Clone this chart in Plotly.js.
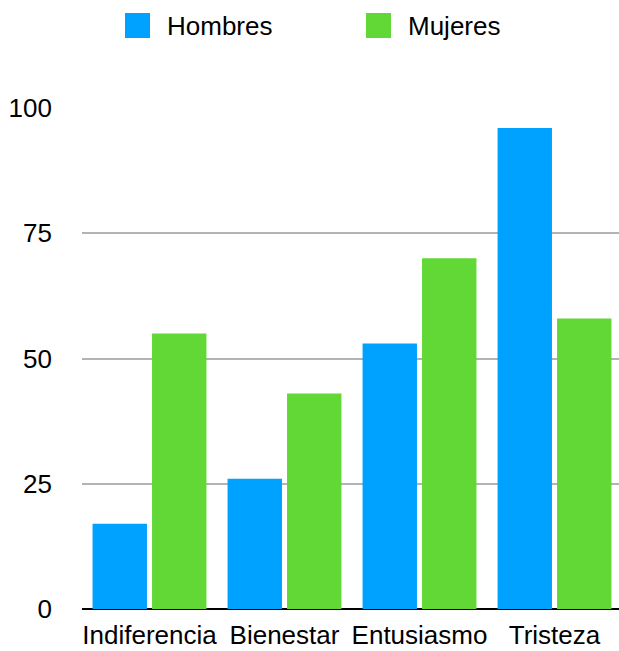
<!DOCTYPE html>
<html>
<head>
<meta charset="utf-8">
<script src="https://cdn.plot.ly/plotly-3.0.1.min.js"></script>
<style>
html,body{margin:0;padding:0;background:#fff;overflow:hidden;}
#chart{width:622px;height:651px;}
</style>
</head>
<body>
<div id="chart"></div>
<script>
const categories = ["Indiferencia", "Bienestar", "Entusiasmo", "Tristeza"];
const seriesNames = ["Hombres", "Mujeres"];
const hombres = [17, 26, 53, 96];
const mujeres = [55, 43, 70, 58];
const seriesColors = ["#00A2FF", "#61D836"];
const yTickVals = [0, 25, 50, 75, 100];
const yTickText = ["0", "25", "50", "75", "100"];

const FONT = "Liberation Sans, Arial, Helvetica, sans-serif";
const seriesValues = [hombres, mujeres];

const traces = seriesNames.map((name, i) => ({
  type: "bar",
  name: name,
  x: categories,
  y: seriesValues[i],
  marker: {color: seriesColors[i], line: {width: 0}},
  showlegend: false,
  hoverinfo: "x+y+name"
}));

// Manual legend (large square swatches as in the reference); plot area is 540px wide
const plotW = 540;
const legendX = [(125 - 82) / plotW, (366 - 82) / plotW];
const swatchW = 25 / plotW;
const textOffset = 40 / plotW;
const shapes = seriesNames.map((n, i) => ({
  type: "rect", xref: "paper", yref: "paper",
  x0: legendX[i], x1: legendX[i] + swatchW,
  y0: 1.1397, y1: 1.1896,
  fillcolor: seriesColors[i], line: {width: 0}
}));
const annotations = seriesNames.map((n, i) => ({
  text: n, xref: "paper", yref: "paper",
  x: legendX[i] + textOffset, y: 1.1627,
  xanchor: "left", yanchor: "middle", showarrow: false,
  font: {family: FONT, size: 26, color: "#000"}
}));

const layout = {
  width: 622, height: 651,
  margin: {l: 82, r: 0, t: 108, b: 42, pad: 0},
  paper_bgcolor: "#fff", plot_bgcolor: "#fff",
  font: {family: FONT, size: 26, color: "#000"},
  barmode: "group",
  bargap: 0.119,
  bargroupgap: 0.085,
  showlegend: false,
  xaxis: {
    type: "category",
    tickangle: 0,
    showgrid: false,
    showline: false,
    ticks: "",
    ticklabelstandoff: 8,
    tickfont: {family: FONT, size: 26, color: "#000"},
    fixedrange: true
  },
  yaxis: {
    range: [0, 100],
    tickmode: "array",
    tickvals: yTickVals,
    ticktext: yTickText,
    showgrid: true,
    gridcolor: "#b3b3b3",
    gridwidth: 2,
    zeroline: true,
    zerolinecolor: "#000",
    zerolinewidth: 2,
    showline: false,
    ticks: "",
    ticklabelstandoff: 29,
    tickfont: {family: FONT, size: 26, color: "#000"},
    fixedrange: true
  },
  shapes: shapes,
  annotations: annotations
};

Plotly.newPlot("chart", traces, layout, {displayModeBar: false, staticPlot: true});
</script>
</body>
</html>
